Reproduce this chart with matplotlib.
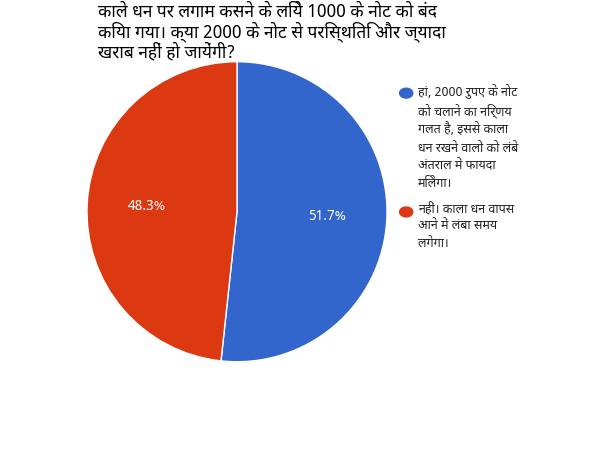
import matplotlib
matplotlib.use("Agg")
import matplotlib.pyplot as plt
import matplotlib.font_manager as fm
from matplotlib.patches import Circle
import numpy as np

TITLE = "काले धन पर लगाम कसने के लिये 1000 के नोट को बंद\nकिया गया। क्या 2000 के नोट से परिस्थिति और ज्यादा\nखराब नहीं हो जायेंगी?"
LABELS = [
    "हां, 2000 रुपए के नोट\nको चलाने का निर्णय\nगलत है, इससे काला\nधन रखने वालों को लंबे\nअंतराल में फायदा\nमिलेगा।",
    "नहीं। काला धन वापस\nआने में लंबा समय\nलगेगा।",
]
VALUES = [51.7, 48.3]
COLORS = ["#3366cc", "#dc3912"]

available = {f.name for f in fm.fontManager.ttflist}
fams = [f for f in ["Noto Sans Devanagari", "Lohit Devanagari", "Mukta", "FreeSans",
                    "Noto Sans", "DejaVu Sans"] if f in available]
plt.rcParams["font.family"] = fams or ["DejaVu Sans"]

fig = plt.figure(figsize=(6, 4.5), dpi=100)
ax = fig.add_axes([0.145, 0.196, 0.5, 0.667])
wedges, texts = ax.pie(VALUES, colors=COLORS, startangle=90, counterclock=False,
                       wedgeprops=dict(edgecolor="white", linewidth=1))
for w, v in zip(wedges, VALUES):
    ang = np.deg2rad((w.theta1 + w.theta2) / 2)
    ax.text(0.6 * np.cos(ang), 0.6 * np.sin(ang), f"{v}%", color="white",
            ha="center", va="center", fontsize=10)
ax.set_xlim(-1, 1)
ax.set_ylim(-1, 1)
ax.set_aspect("equal")

fig.text(0.163, 0.995, TITLE, ha="left", va="top", fontsize=12.5, fontweight="bold",
         linespacing=1.05)

ys = [0.793, 0.529]
for lab, c, y in zip(LABELS, COLORS, ys):
    fig.patches.append(Circle((0.677, y), 0.011, transform=fig.transFigure, color=c))
    fig.text(0.697, y + 0.022, lab, ha="left", va="top", fontsize=9, color="#222222",
             linespacing=1.45)

fig.savefig("out.png", dpi=100)
